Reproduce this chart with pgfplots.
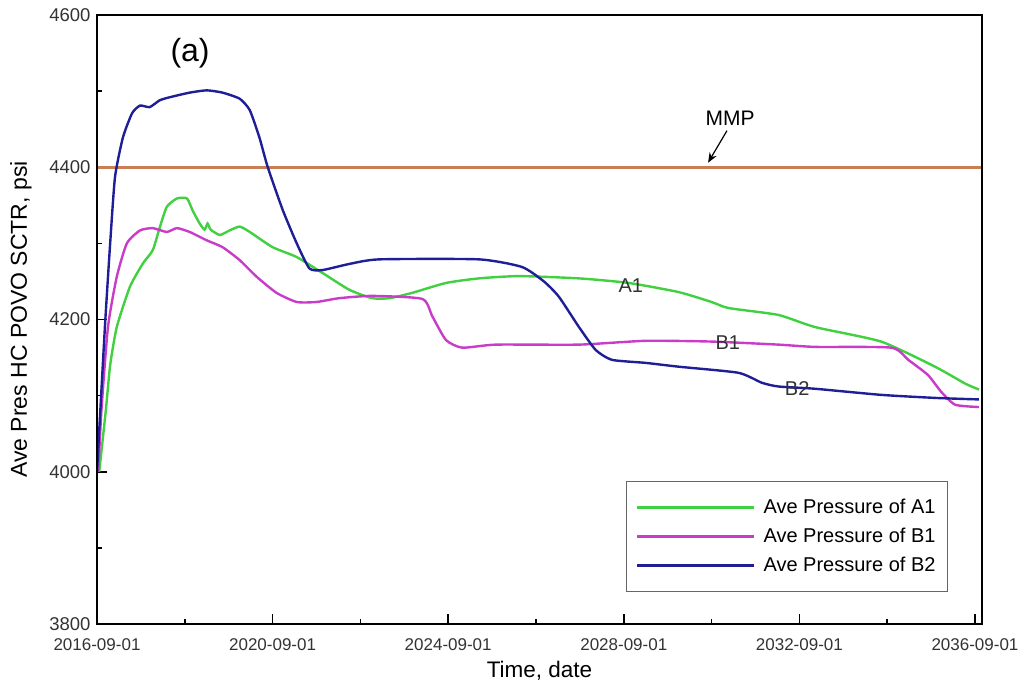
\documentclass[border=0pt]{standalone}
\usepackage{fontspec}
\setmainfont{Liberation Sans}
\usepackage{pgfplots}
\pgfplotsset{compat=1.18}
\usetikzlibrary{arrows.meta}
\definecolor{cA}{RGB}{64,208,64}
\definecolor{cB}{RGB}{200,60,200}
\definecolor{cC}{RGB}{30,30,150}
\definecolor{cM}{RGB}{200,125,85}
\begin{document}
\begin{tikzpicture}
\begin{axis}[
  scale only axis, width=885pt, height=609pt,
  xmin=0, xmax=20.16, ymin=3800, ymax=4600,
  xtick={0,4,8,12,16,20},
  xticklabels={2016-09-01,2020-09-01,2024-09-01,2028-09-01,2032-09-01,2036-09-01},
  minor xtick={2,6,10,14,18},
  ytick={3800,4000,4200,4400,4600},
  minor ytick={3900,4100,4300,4500},
  xtick pos=left, ytick pos=left,
  tick align=inside,
  major tick length=10pt, minor tick length=5pt,
  every tick/.style={black, line width=1.6pt},
  /pgf/number format/assume math mode=true,
  /pgf/number format/1000 sep={},
  yticklabel style={font=\fontsize{18.5}{20}\selectfont, color=black!80, xshift=-3pt},
  xticklabel style={font=\fontsize{17}{18}\selectfont, color=black!80, yshift=-11pt},
  xlabel={Time, date},
  ylabel={Ave Pres HC POVO SCTR, psi},
  xlabel style={font=\fontsize{22.5}{24}\selectfont, at={(axis description cs:0.5,-0.076)}, anchor=center},
  ylabel style={font=\fontsize{23}{25}\selectfont, at={(axis description cs:-0.0859,0.5)}, anchor=center},
  legend style={at={(rel axis cs:0.9616,0.2348)}, anchor=north east,
    font=\fontsize{20}{22}\selectfont, draw=black!60, line width=1pt,
    row sep=9pt, inner xsep=10pt, inner ysep=16pt},
  legend cell align=left,
  legend image code/.code={\draw[#1] (0pt,0pt) -- (117pt,0pt); \path (123pt,0pt);},
  every axis plot/.append style={line width=2.4pt, smooth, tension=0.35},
  clip=true,
]
\addplot[cM, line width=3pt, forget plot, sharp plot] coordinates {(0,4400) (20.16,4400)};

\addplot[cA] coordinates {
(0.05,4000) (0.2,4080) (0.3,4140) (0.45,4190) (0.75,4243) (1.05,4274) (1.27,4291)
(1.43,4321) (1.59,4348) (1.82,4359) (2.05,4359) (2.18,4343) (2.34,4326) (2.45,4318)
(2.52,4326) (2.59,4318) (2.80,4311) (3.02,4317) (3.25,4322) (3.48,4315) (4.0,4295)
(4.55,4282) (5.14,4261) (5.75,4239) (6.27,4228) (6.66,4228) (7.18,4235) (7.95,4248)
(8.70,4254) (9.61,4257) (10.98,4254) (12.11,4248) (13.25,4236) (14.0,4223) (14.39,4215)
(15.52,4206) (16.36,4190) (17.86,4171) (19.09,4138) (19.77,4116) (20.09,4108)
};
\addlegendentry{Ave Pressure of A1}

\addplot[cB] coordinates {
(0.03,4000) (0.1,4080) (0.25,4190) (0.45,4256) (0.68,4300) (0.98,4317) (1.27,4320)
(1.59,4315) (1.82,4320) (2.11,4315) (2.5,4304) (2.86,4295) (3.25,4278) (3.64,4256)
(4.09,4235) (4.55,4223) (5.0,4223) (5.52,4228) (6.27,4231) (7.41,4227) (7.64,4204)
(7.95,4173) (8.32,4163) (9.09,4167) (10.98,4167) (12.5,4172) (14.0,4171) (15.52,4167)
(16.36,4164) (18.09,4163) (18.48,4147) (18.93,4127) (19.23,4105) (19.55,4088) (20.09,4085)
};
\addlegendentry{Ave Pressure of B1}

\addplot[cC] coordinates {
(0,4000) (0.18,4190) (0.30,4300) (0.41,4387) (0.59,4439) (0.80,4471) (0.98,4481)
(1.20,4479) (1.43,4488) (1.66,4492) (2.11,4498) (2.50,4501) (2.86,4498) (3.25,4490)
(3.48,4475) (3.70,4439) (3.89,4400) (4.23,4344) (4.55,4300) (4.84,4267) (5.14,4265)
(5.75,4273) (6.43,4279) (8.70,4279) (9.68,4269) (10.18,4250) (10.52,4230) (10.98,4190)
(11.36,4160) (11.73,4147) (12.50,4143) (13.25,4138) (14.61,4130) (15.14,4117) (15.52,4112)
(16.36,4109) (17.86,4101) (19.09,4097) (20.09,4095)
};
\addlegendentry{Ave Pressure of B2}

\node[font=\fontsize{32}{34}\selectfont] at (axis cs:2.12,4550) {(a)};
\node[font=\fontsize{21}{23}\selectfont] at (axis cs:14.42,4464) {MMP};
\draw[-{Stealth[length=10pt,width=8pt]}, line width=1.2pt] (axis cs:14.35,4448) -- (axis cs:13.92,4406);
\node[font=\fontsize{20}{22}\selectfont, color=black!80] at (axis cs:12.16,4244) {A1};
\node[font=\fontsize{20}{22}\selectfont, color=black!80] at (axis cs:14.37,4169) {B1};
\node[font=\fontsize{20}{22}\selectfont, color=black!80] at (axis cs:15.95,4109) {B2};
\end{axis}
\draw[line width=2.4pt] (current axis.south west) rectangle (current axis.north east);
\path ([shift={(-97pt,-63pt)}]current axis.south west) rectangle ([shift={(47pt,15pt)}]current axis.north east);
\end{tikzpicture}
\end{document}
